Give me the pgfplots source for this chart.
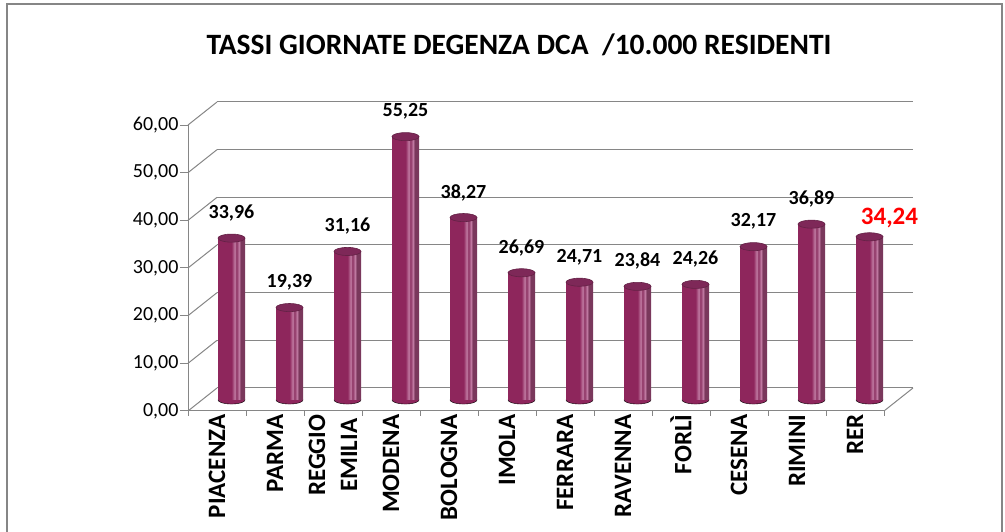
\documentclass[border=0pt]{standalone}
\usepackage{pgfplots}
\pgfplotsset{compat=1.18}
\usepackage{fontspec}
\setmainfont{Carlito}
\definecolor{gridc}{RGB}{134,134,134}
\definecolor{cylA}{RGB}{178,88,140}
\definecolor{cylB}{RGB}{160,58,112}
\definecolor{cylC}{RGB}{142,38,92}
\definecolor{cylD}{RGB}{192,122,162}
\definecolor{cylG}{RGB}{140,50,98}
\definecolor{cylE}{RGB}{122,56,92}
\definecolor{cylH}{RGB}{105,46,80}
\definecolor{cylF}{RGB}{80,30,60}
\definecolor{topC}{RGB}{126,40,88}
\definecolor{topR}{RGB}{100,34,70}
\pgfdeclarehorizontalshading{cyl}{100bp}{color(0bp)=(cylA); color(8bp)=(cylB); color(20bp)=(cylC); color(50bp)=(cylC); color(56bp)=(cylD); color(59bp)=(cylG); color(64bp)=(cylD); color(67bp)=(cylE); color(82bp)=(cylE); color(92bp)=(cylH); color(100bp)=(cylF)}
\pgfplotsset{cylbar/.style={ybar, bar width=27pt, bar shift=0pt, draw=none, shading=cyl},
  baraxis/.style={at={(202.5pt,132pt)}, anchor=south west, scale only axis,
  width=696pt, height=286pt, xmin=-0.5, xmax=11.5, ymin=0, ymax=60,
  hide axis, clip=false,
  /pgf/number format/.cd, fixed, fixed zerofill, precision=2, use comma, 1000 sep={}, assume math mode=true}}
\begin{document}
\begin{tikzpicture}[x=1pt,y=1pt]
\useasboundingbox (0,0) rectangle (1005,532);
\draw[gridc, line width=1.2pt] (7,0) -- (7,528) -- (1002,528) -- (1002,0);
\node[font=\bfseries\fontsize{29.5}{34}\selectfont] at (519,487) {TASSI GIORNATE DEGENZA DCA\ \ /10.000 RESIDENTI};
% back wall
\begin{axis}[at={(217pt,144pt)}, anchor=south west, scale only axis,
  width=696pt, height=286pt, xmin=-0.5, xmax=11.5, ymin=0, ymax=60,
  ytick={0,10,...,60}, yticklabels={}, xtick=\empty, major tick length=0pt,
  ymajorgrids, grid style={gridc, line width=1pt}, axis line style={draw=none}]
\addplot[draw=none] coordinates {(0,0)};
\end{axis}
% front axis
\begin{axis}[at={(188pt,121pt)}, anchor=south west, scale only axis,
  width=696pt, height=286pt, xmin=-0.5, xmax=11.5, ymin=0, ymax=60,
  axis x line*=bottom, axis y line*=left,
  axis line style={gridc, line width=1pt},
  ytick={0,10,...,60}, tick align=outside, major tick length=8pt, minor tick length=5pt,
  tick style={gridc, line width=1pt},
  xtick={0,...,11}, minor xtick={-0.5,0.5,...,11.5}, major x tick style={draw=none},
  xticklabels={PIACENZA, PARMA, {REGGIO\\EMILIA}, MODENA, BOLOGNA, IMOLA, FERRARA, RAVENNA, FORLÌ, CESENA, RIMINI, RER},
  xticklabel style={yshift=8pt, rotate=90, anchor=east, align=center, font=\bfseries\fontsize{25}{32}\selectfont},
  yticklabel style={font=\fontsize{20}{24}\selectfont, xshift=2pt},
  clip=false,
  /pgf/number format/.cd, fixed, fixed zerofill, precision=2, use comma, 1000 sep={}, assume math mode=true]
\addplot[draw=none] coordinates {(0,0)};
\pgfplotsinvokeforeach{0,10,20,30,40,50,60}{\draw[gridc, line width=1pt] (axis cs:-0.5,#1) -- ++(29pt,23pt);}
\draw[gridc, line width=1pt] (axis cs:11.5,0) -- ++(29pt,23pt);
\end{axis}
% bottom ellipses of the cylinders
\begin{axis}[baraxis]
\addplot[only marks, mark=*, mark size=13.5pt, mark options={yscale=0.3, fill=cylC, draw=none}]
  coordinates {(0,0)(1,0)(2,0)(3,0)(4,0)(5,0)(6,0)(7,0)(8,0)(9,0)(10,0)(11,0)};
\end{axis}
% bars
\begin{axis}[baraxis]
\addplot[cylbar] coordinates {(0,33.96)};
\addplot[cylbar] coordinates {(1,19.39)};
\addplot[cylbar] coordinates {(2,31.16)};
\addplot[cylbar] coordinates {(3,55.25)};
\addplot[cylbar] coordinates {(4,38.27)};
\addplot[cylbar] coordinates {(5,26.69)};
\addplot[cylbar] coordinates {(6,24.71)};
\addplot[cylbar] coordinates {(7,23.84)};
\addplot[cylbar] coordinates {(8,24.26)};
\addplot[cylbar] coordinates {(9,32.17)};
\addplot[cylbar] coordinates {(10,36.89)};
\addplot[cylbar] coordinates {(11,34.24)};
\addplot[only marks, mark=*, mark size=13.5pt, mark options={yscale=0.3, fill=topC, draw=topR, line width=0.6pt},
  nodes near coords, every node near coord/.append style={font=\bfseries\fontsize{20}{24}\selectfont, anchor=center, yshift=25pt, text=black}]
  coordinates {(0,33.96)(1,19.39)(2,31.16)(3,55.25)(4,38.27)(5,26.69)(6,24.71)(7,23.84)(8,24.26)(9,32.17)(10,36.89)};
\addplot[only marks, mark=*, mark size=13.5pt, mark options={yscale=0.3, fill=topC, draw=topR, line width=0.6pt},
  nodes near coords, every node near coord/.append style={font=\bfseries\fontsize{25}{30}\selectfont, anchor=center, xshift=20pt, yshift=19pt, text=red}]
  coordinates {(11,34.24)};
\end{axis}
\end{tikzpicture}
\end{document}
